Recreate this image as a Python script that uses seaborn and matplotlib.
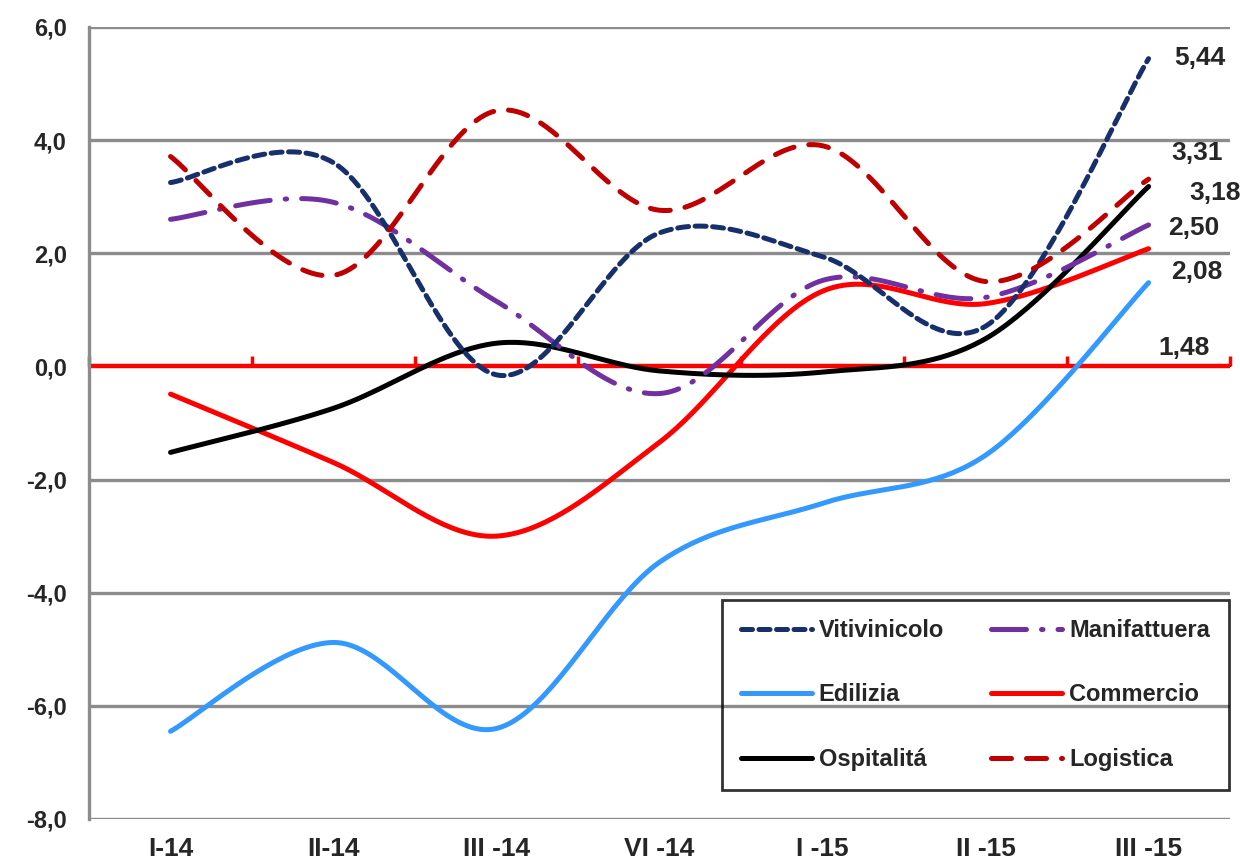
import numpy as np
import pandas as pd
import matplotlib
matplotlib.use("Agg")
import matplotlib.pyplot as plt
import seaborn as sns

# ---------------- data ----------------
categories = ["I-14", "II-14", "III -14", "VI -14", "I -15", "II -15", "III -15"]
vitivinicolo = [3.25, 3.60, -0.15, 2.36, 1.94, 0.71, 5.44]
manifattuera = [2.60, 2.90, 1.15, -0.48, 1.52, 1.22, 2.50]
edilizia = [-6.45, -4.88, -6.40, -3.46, -2.42, -1.57, 1.48]
commercio = [-0.49, -1.70, -3.00, -1.34, 1.33, 1.11, 2.08]
ospitalita = [-1.52, -0.74, 0.41, -0.08, -0.10, 0.49, 3.18]
logistica = [3.71, 1.61, 4.52, 2.76, 3.90, 1.50, 3.31]
series_names = ["Vitivinicolo", "Manifattuera", "Edilizia", "Commercio", "Ospitalitá", "Logistica"]
yticks = [-8, -6, -4, -2, 0, 2, 4, 6]

series_values = [vitivinicolo, manifattuera, edilizia, commercio, ospitalita, logistica]

# ---------------- style ----------------
styles = {
    "Vitivinicolo": dict(color="#17306b", dashes=(2.2, 1.3)),
    "Manifattuera": dict(color="#7030a0", dashes=(7, 3, 0.3, 3)),
    "Edilizia": dict(color="#3399ff", dashes=None),
    "Commercio": dict(color="#ff0000", dashes=None),
    "Ospitalitá": dict(color="#000000", dashes=None),
    "Logistica": dict(color="#c00000", dashes=(4, 3)),
}
# label offsets (data-unit shifts for the end labels, purely layout)
label_pos = {
    "Vitivinicolo": (0.16, 0.02),
    "Logistica": (0.14, 0.47),
    "Ospitalitá": (0.25, -0.11),
    "Manifattuera": (0.12, -0.06),
    "Commercio": (0.14, -0.42),
    "Edilizia": (0.06, -1.16),
}


def smooth(x, y, n=40):
    """Excel-like smoothed line (Catmull-Rom / Bezier with 1/6 tension)."""
    P = np.column_stack([x, y]).astype(float)
    m = len(P)
    out = []
    for i in range(m - 1):
        p0 = P[i - 1] if i > 0 else P[i]
        p1 = P[i]
        p2 = P[i + 1]
        p3 = P[i + 2] if i + 2 < m else P[i + 1]
        c1 = p1 + (p2 - p0) / 6.0
        c2 = p2 - (p3 - p1) / 6.0
        t = np.linspace(0, 1, n, endpoint=(i == m - 2))[:, None]
        b = ((1 - t) ** 3) * p1 + 3 * ((1 - t) ** 2) * t * c1 + 3 * (1 - t) * t ** 2 * c2 + t ** 3 * p2
        out.append(b)
    out = np.vstack(out)
    return out[:, 0], out[:, 1]


sns.set_style("white")
plt.rcParams["font.family"] = ["Liberation Sans", "DejaVu Sans"]
plt.rcParams["font.weight"] = "bold"

fig = plt.figure(figsize=(12.4, 8.67), dpi=100)
ax = fig.add_axes([0.0718, 0.0554, 0.9202, 0.9135])

xpos = np.arange(len(categories))
rows = []
for name, vals in zip(series_names, series_values):
    sx, sy = smooth(xpos, vals)
    rows.append(pd.DataFrame({"x": sx, "y": sy, "serie": name, "order": np.arange(len(sx))}))
df = pd.concat(rows, ignore_index=True)

# gridlines
for yv in yticks:
    if yv != 0:
        ax.axhline(yv, color="#8c8c8c", lw=2.4, zorder=1)

draw_order = ["Edilizia", "Commercio", "Ospitalitá", "Manifattuera", "Vitivinicolo", "Logistica"]
handles = {}
for name in draw_order:
    st = styles[name]
    sub = df[df["serie"] == name]
    sns.lineplot(data=sub, x="x", y="y", sort=False, estimator=None, ax=ax,
                 color=st["color"], lw=3.6, zorder=3, legend=False)
    line = ax.lines[-1]
    if st["dashes"] is not None:
        line.set_dashes(st["dashes"])
        line.set_dash_capstyle("round")
    line.set_solid_capstyle("round")
    handles[name] = line

# zero axis (red) with category boundary ticks
ax.axhline(0, color="#ff0000", lw=3.2, zorder=2)
sec = ax.secondary_xaxis(8 / 14)
sec.set_xticks(np.arange(len(categories) + 1) - 0.5)
sec.set_xticklabels([])
sec.tick_params(axis="x", direction="out", length=7, width=2.5, color="#ff0000")
sec.spines["bottom"].set_visible(False)

ax.set_xlim(-0.5, len(categories) - 0.5)
ax.set_ylim(-8, 6)
ax.set_yticks(yticks)
ax.set_yticklabels([f"{v:.1f}".replace(".", ",") for v in yticks], fontsize=17, fontweight="bold")
ax.set_xticks(xpos)
ax.set_xticklabels(categories, fontsize=19, fontweight="bold")
ax.tick_params(axis="x", length=0, pad=13)
ax.tick_params(axis="y", direction="out", length=8, width=2, color="#8c8c8c", pad=8)
ax.set_xlabel("")
ax.set_ylabel("")
for s in ["top", "right", "bottom"]:
    ax.spines[s].set_visible(False)
ax.spines["left"].set_color("#8c8c8c")
ax.spines["left"].set_linewidth(2.4)

# end labels
for name, vals in zip(series_names, series_values):
    dx, dy = label_pos[name]
    ax.text(xpos[-1] + dx, vals[-1] + dy, f"{vals[-1]:.2f}".replace(".", ","),
            fontsize=19, fontweight="bold", ha="left", va="center", zorder=5)

# legend (row-major order in 2 columns)
leg_order = ["Vitivinicolo", "Edilizia", "Ospitalitá", "Manifattuera", "Commercio", "Logistica"]
leg = ax.legend([handles[n] for n in leg_order], leg_order, ncol=2,
                loc="lower right", bbox_to_anchor=(0.999, 0.037),
                prop={"weight": "bold", "size": 17}, frameon=True, fancybox=False,
                handlelength=3.0, handletextpad=0.3, columnspacing=2.0,
                labelspacing=1.75, borderpad=0.8, borderaxespad=0.0)
leg.get_frame().set_edgecolor("black")
leg.get_frame().set_linewidth(2)
leg.get_frame().set_facecolor("none")
leg.set_zorder(6)

fig.savefig("out.png", dpi=100)
